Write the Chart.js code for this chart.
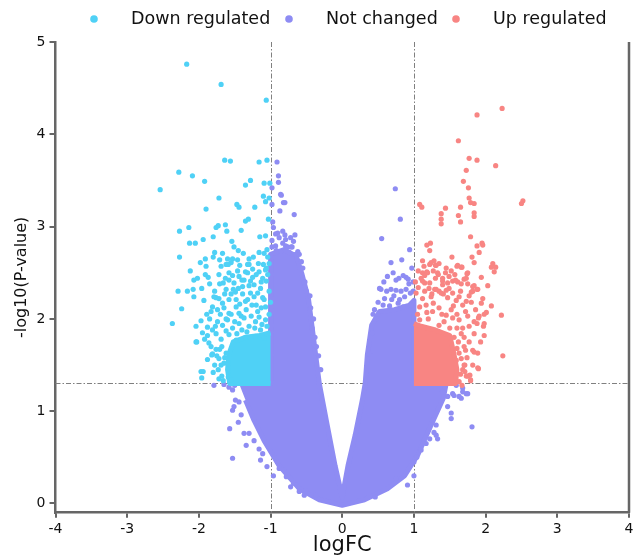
<!DOCTYPE html>
<html>
<head>
<meta charset="utf-8">
<title>Volcano plot</title>
<script src="https://cdn.jsdelivr.net/npm/chart.js@4.4.1/dist/chart.umd.min.js"></script>
<style>
    html, body { margin: 0; padding: 0; background: #fff; }
    #wrap { width: 633px; height: 558px; }
</style>
</head>
<body>
<div id="wrap"><canvas id="volcano" width="633" height="558"></canvas></div>
<script>
// values (logFC, -log10 p)
const xTicks = [-4, -3, -2, -1, 0, 1, 2, 3, 4];
const yTicks = [0, 1, 2, 3, 4, 5];
const fcCutoffs = [-1, 1];
const pCutoff = 1.3;
const legendLabels = ['Down regulated', 'Not changed', 'Up regulated'];

// outlines of the solid blobs where the dots overlap completely
const notChangedCore = [
    [-1.44, 1.30], [-1.0, 1.30], [-1.0, 2.70], [-0.81, 2.75], [-0.64, 2.68], [-0.56, 2.48],
    [-0.47, 2.21], [-0.41, 1.85], [-0.32, 1.30], [-0.21, 0.85], [-0.10, 0.41], [0, 0.07],
    [0.08, 0.41], [0.18, 0.74], [0.28, 1.12], [0.32, 1.30], [0.35, 1.61], [0.41, 1.93],
    [0.52, 2.08], [0.73, 2.10], [0.94, 2.15], [1.0, 2.20], [1.0, 1.30], [1.45, 1.30],
    [1.41, 1.14], [1.24, 0.85], [1.05, 0.52], [0.87, 0.30], [0.63, 0.16], [0.31, 0.04],
    [0, -0.02], [-0.32, 0.04], [-0.60, 0.16], [-0.88, 0.41], [-1.09, 0.68], [-1.23, 0.90],
    [-1.35, 1.12]
];
const downCore = [
    [-1.0, 1.30], [-1.57, 1.30], [-1.60, 1.45], [-1.58, 1.62], [-1.52, 1.75],
    [-1.35, 1.80], [-1.15, 1.82], [-1.0, 1.85]
];
const upCore = [
    [1.0, 1.30], [1.58, 1.30], [1.60, 1.45], [1.55, 1.65], [1.50, 1.82],
    [1.30, 1.88], [1.10, 1.92], [1.0, 1.95]
];

const downPoints = [
    [-2.17, 4.76], [-1.69, 4.54], [-1.06, 4.37], [-1.64, 3.72], [-1.56, 3.71], [-1.16, 3.70],
    [-1.05, 3.72], [-2.28, 3.59], [-2.09, 3.55], [-1.92, 3.49], [-2.54, 3.40], [-1.35, 3.45],
    [-1.28, 3.50], [-1.09, 3.47], [-1.01, 3.47], [-1.72, 3.31], [-1.10, 3.33], [-1.02, 3.31],
    [-1.07, 3.27], [-1.47, 3.24], [-1.44, 3.21], [-1.90, 3.19], [-1.22, 3.21],
    [-1.03, 3.08], [-1.31, 3.08], [-1.35, 3.06], [-1.73, 3.01], [-1.76, 2.99], [-1.63, 3.02],
    [-1.61, 2.95], [-2.27, 2.95], [-2.14, 2.99], [-1.41, 2.96], [-1.80, 2.89], [-1.94, 2.86],
    [-1.15, 2.89], [-1.07, 2.90], [-2.13, 2.82], [-2.05, 2.82], [-1.54, 2.84], [-1.51, 2.78],
    [-1.45, 2.74], [-1.05, 2.75], [-1.16, 2.72], [-1.09, 2.71], [-2.27, 2.67], [-1.78, 2.72],
    [-1.91, 2.65], [-1.67, 2.71], [-1.60, 2.65], [-1.53, 2.65], [-1.46, 2.64], [-1.38, 2.71],
    [-1.24, 2.67], [-1.98, 2.61], [-1.90, 2.57], [-2.12, 2.52], [-1.69, 2.57], [-1.62, 2.59],
    [-1.55, 2.61], [-1.43, 2.58], [-1.30, 2.59], [-1.17, 2.60], [-1.87, 2.45], [-2.07, 2.42],
    [-2.02, 2.44], [-1.72, 2.48], [-1.58, 2.50], [-1.46, 2.52], [-1.35, 2.51], [-1.25, 2.54],
    [-1.16, 2.51], [-1.06, 2.55], [-2.29, 2.30], [-2.16, 2.30], [-2.07, 2.24], [-2.24, 2.11],
    [-2.37, 1.95], [-2.04, 1.92], [-2.03, 1.75], [-1.95, 1.85], [-1.88, 1.82], [-1.97, 1.43],
    [-1.94, 1.43], [-1.96, 1.36], [-1.81, 1.62], [-1.76, 1.67], [-1.71, 1.67],
    [-1.80, 2.67], [-1.71, 2.64], [-1.59, 2.59], [-1.32, 2.59], [-1.10, 2.59], [-1.04, 2.67],
    [-1.66, 2.39], [-1.71, 2.38], [-1.58, 2.42], [-1.51, 2.39], [-1.44, 2.46], [-1.37, 2.42],
    [-1.32, 2.50], [-1.28, 2.41], [-1.20, 2.48], [-1.11, 2.44], [-1.07, 2.53], [-1.06, 2.41],
    [-2.08, 2.32], [-1.79, 2.24], [-1.76, 2.23], [-1.67, 2.17], [-1.58, 2.21], [-1.48, 2.21],
    [-1.39, 2.27], [-1.32, 2.21], [-1.23, 2.24], [-1.11, 2.23], [-1.52, 2.32], [-1.62, 2.32],
    [-1.39, 2.35], [-1.23, 2.37], [-1.81, 2.13], [-1.83, 2.08], [-1.74, 2.10], [-1.65, 2.12],
    [-1.58, 2.06], [-1.48, 2.13], [-1.44, 2.06], [-1.34, 2.10], [-1.26, 2.15], [-1.18, 2.08],
    [-1.07, 2.13], [-1.09, 2.21], [-1.88, 1.91], [-1.81, 1.88], [-1.74, 1.97], [-1.67, 1.93],
    [-1.60, 1.99], [-1.53, 1.90], [-1.44, 1.95], [-1.37, 2.01], [-1.30, 1.92], [-1.21, 1.97],
    [-1.14, 1.88], [-1.07, 1.99], [-1.76, 1.84], [-1.69, 1.78], [-1.58, 1.83], [-1.48, 1.77],
    [-1.35, 1.80], [-1.21, 1.81], [-1.09, 1.79], [-2.04, 1.75], [-1.82, 1.61], [-1.72, 1.57],
    [-1.65, 1.52], [-1.62, 1.63], [-1.59, 1.37], [-1.55, 1.34], [-1.02, 2.30], [-1.14, 2.33],
    [-1.02, 2.05], [-1.12, 1.94], [-1.00, 2.18], [-1.28, 2.28], [-1.43, 2.16], [-1.55, 2.27],
    [-1.70, 2.05], [-1.62, 2.00], [-1.85, 2.00], [-1.50, 1.97], [-1.27, 2.03], [-1.16, 2.02],
    [-1.40, 1.88], [-1.68, 1.70], [-1.73, 1.45], [-1.68, 1.38], [-1.64, 1.58], [-1.78, 1.50],
    [-1.86, 1.74], [-1.85, 2.38], [-1.78, 2.30], [-1.93, 2.20], [-1.89, 2.05], [-1.97, 1.98],
    [-1.63, 2.44], [-1.49, 2.29], [-1.35, 2.19], [-1.20, 2.15], [-1.13, 2.40], [-1.04, 2.48],
    [-1.25, 2.45], [-1.55, 2.05], [-1.72, 2.22], [-1.64, 2.27], [-1.41, 2.03], [-1.30, 2.36],
    [-1.18, 2.28], [-1.05, 1.92], [-1.22, 1.90], [-1.33, 1.86], [-1.47, 1.84], [-1.62, 1.87],
    [-1.77, 1.92], [-1.92, 1.78], [-1.83, 1.70], [-1.75, 1.60], [-1.69, 1.50], [-1.66, 1.33],
    [-1.72, 1.35], [-1.80, 1.42], [-1.88, 1.56], [-1.40, 2.42], [-1.53, 2.47], [-1.96, 2.33],
    [-1.91, 2.48], [-1.45, 2.33], [-1.13, 2.12], [-1.02, 2.60], [-1.30, 2.65]
];

const upPoints = [
    [2.23, 4.28], [1.88, 4.21], [1.62, 3.93], [1.77, 3.74], [1.88, 3.72], [2.14, 3.66],
    [1.73, 3.61], [1.69, 3.49], [1.76, 3.42], [2.52, 3.28], [2.50, 3.25], [1.77, 3.31],
    [1.79, 3.26], [1.84, 3.25], [1.08, 3.24], [1.11, 3.21], [1.44, 3.20], [1.65, 3.21],
    [1.62, 3.12], [1.65, 3.05], [1.84, 3.15], [1.84, 3.11], [1.38, 3.14], [1.38, 3.08],
    [1.38, 3.03], [1.79, 2.89], [1.18, 2.80], [1.23, 2.82], [1.22, 2.74], [1.88, 2.79],
    [1.95, 2.82], [1.96, 2.80], [1.91, 2.72], [1.53, 2.67], [1.12, 2.63], [1.28, 2.63],
    [1.22, 2.59], [1.35, 2.60], [1.31, 2.58], [1.81, 2.67], [1.84, 2.61], [1.60, 2.57],
    [1.67, 2.56], [2.10, 2.60], [2.14, 2.56], [2.08, 2.56], [2.12, 2.51], [1.12, 2.50],
    [1.18, 2.51], [1.44, 2.50], [1.34, 2.48], [1.49, 2.46], [1.74, 2.49], [1.70, 2.43],
    [1.10, 2.44], [1.15, 2.39], [1.22, 2.39], [1.40, 2.41], [1.47, 2.39], [1.54, 2.41],
    [1.61, 2.40], [1.82, 2.35], [1.88, 2.32], [1.80, 2.29], [1.75, 2.38], [1.29, 2.32],
    [1.35, 2.30], [1.41, 2.27], [1.25, 2.27], [1.96, 2.22], [2.08, 2.14], [2.22, 2.04],
    [2.24, 1.60], [2.01, 2.07], [1.90, 2.01], [1.97, 1.92], [1.88, 1.95], [1.72, 1.66],
    [1.82, 1.66], [1.89, 1.63], [1.71, 1.50], [1.89, 1.47], [1.75, 1.38], [1.79, 1.33],
    [1.24, 2.61], [1.30, 2.58], [1.61, 2.58], [1.66, 2.56], [1.15, 2.47], [1.19, 2.50],
    [1.33, 2.50], [1.40, 2.44], [1.58, 2.42], [1.66, 2.38], [1.73, 2.44], [1.75, 2.50],
    [1.84, 2.36], [1.40, 2.37], [1.49, 2.33], [1.12, 2.41], [1.03, 2.28], [1.15, 2.30],
    [1.24, 2.24], [1.31, 2.32], [1.38, 2.28], [1.47, 2.23], [1.54, 2.28], [1.63, 2.24],
    [1.73, 2.19], [1.82, 2.30], [1.89, 2.32], [1.59, 2.20], [1.68, 2.15], [1.80, 2.18],
    [1.94, 2.17], [1.08, 2.13], [1.17, 2.15], [1.26, 2.08], [1.35, 2.12], [1.45, 2.04],
    [1.52, 2.10], [1.54, 2.01], [1.63, 1.99], [1.75, 2.03], [1.84, 1.97], [1.91, 2.03],
    [1.98, 1.95], [1.68, 1.90], [1.77, 1.92], [1.84, 1.84], [1.98, 1.82], [1.77, 1.75],
    [1.70, 1.70], [1.84, 1.64], [1.63, 1.63], [1.66, 1.57], [1.59, 1.55], [1.70, 1.50],
    [1.82, 1.50], [1.90, 1.46], [1.73, 1.38], [1.78, 1.39], [1.79, 1.34], [1.68, 1.45],
    [1.05, 2.05], [1.20, 2.00], [1.42, 1.97], [1.60, 1.90], [1.62, 1.75], [1.65, 1.40],
    [1.63, 1.32], [1.12, 2.22], [1.02, 2.40], [1.30, 2.44], [1.55, 2.14], [1.70, 1.80],
    [1.06, 2.34], [1.14, 2.57], [1.27, 2.52], [1.45, 2.55], [1.57, 2.48], [1.65, 2.30],
    [1.77, 2.25], [1.86, 2.10], [1.72, 2.08], [1.60, 2.05], [1.39, 2.05], [1.27, 2.17],
    [1.18, 2.07], [1.08, 1.99], [1.35, 1.93], [1.50, 1.90], [1.56, 1.80], [1.66, 1.84],
    [1.74, 1.58], [1.67, 1.28], [1.71, 1.43], [1.60, 1.68], [1.93, 1.75], [1.45, 2.31],
    [1.21, 2.33], [1.06, 2.52], [1.52, 2.52], [1.94, 2.45], [2.03, 2.36], [1.98, 2.05]
];

const notChangedPoints = [
    [-0.91, 3.70], [-0.89, 3.55], [-0.89, 3.48], [-0.98, 3.42], [-0.85, 3.34], [-0.82, 3.26],
    [-0.80, 3.26], [-0.98, 3.24], [-0.86, 3.35], [-0.87, 3.17], [-0.67, 3.13], [-0.96, 2.99],
    [-0.90, 2.93], [-0.83, 2.95], [-0.79, 2.86], [-0.72, 2.88], [-0.66, 2.91], [-0.93, 2.79],
    [-0.86, 2.73], [-0.79, 2.79], [-0.70, 2.78], [-0.62, 2.73], [-0.60, 2.70], [-0.93, 2.92],
    [-0.80, 2.91], [-0.83, 2.82], [-0.76, 2.78], [-0.71, 2.78], [-0.65, 2.70], [-0.98, 2.85],
    [-0.97, 3.05], [-0.52, 2.40], [-0.45, 2.25], [-0.40, 2.00], [-0.38, 1.80], [-0.33, 1.60],
    [-0.30, 1.45], [-0.55, 2.55], [-0.42, 1.90], [-0.36, 1.70], [-0.98, 2.78], [-0.92, 2.74],
    [-0.74, 2.72], [-0.57, 2.62], [-0.50, 2.30], [-0.44, 2.12], [-0.68, 2.84], [-0.88, 2.88],
    [0.74, 3.41], [0.81, 3.08], [0.55, 2.87], [0.94, 2.75], [0.68, 2.61], [0.83, 2.64],
    [0.63, 2.46], [0.75, 2.42], [0.79, 2.44], [0.85, 2.47], [0.89, 2.45], [0.92, 2.43],
    [0.52, 2.33], [0.68, 2.32], [0.75, 2.31], [0.89, 2.32], [0.59, 2.22], [0.69, 2.21],
    [0.80, 2.21], [0.66, 2.14], [0.85, 2.13], [0.96, 2.15], [0.54, 2.32], [0.82, 2.30],
    [0.97, 2.55], [0.45, 2.10], [0.47, 2.00], [0.42, 1.85], [0.38, 1.62], [0.99, 2.30],
    [0.43, 2.05], [0.50, 2.18], [0.57, 2.15], [0.62, 2.30], [0.72, 2.25], [0.78, 2.17],
    [0.87, 2.24], [0.95, 2.28], [0.99, 2.40], [0.93, 2.38], [0.58, 2.40], [0.71, 2.50],
    [1.54, 1.19], [1.66, 1.14], [1.73, 1.19], [1.47, 1.05], [1.52, 0.98], [1.52, 0.92],
    [1.81, 0.83], [1.26, 0.90], [1.31, 0.85], [1.28, 0.77], [1.22, 0.70], [1.31, 0.74],
    [1.33, 0.70], [1.17, 0.65], [1.10, 0.58], [1.04, 0.50], [1.00, 0.45], [1.00, 0.30],
    [0.91, 0.20], [0.75, 0.27], [0.46, 0.07], [1.40, 1.21], [1.47, 1.16], [1.59, 1.28],
    [1.68, 1.21], [1.75, 1.19], [1.63, 1.16], [1.56, 1.17], [1.68, 1.25],
    [-1.79, 1.28], [-1.58, 1.26], [-1.53, 1.23], [-1.49, 1.12], [-1.44, 1.10], [-1.51, 1.05],
    [-1.53, 1.01], [-1.41, 0.96], [-1.45, 0.88], [-1.57, 0.81], [-1.37, 0.76], [-1.30, 0.76],
    [-1.23, 0.68], [-1.34, 0.63], [-1.16, 0.59], [-1.11, 0.54], [-1.53, 0.49], [-1.14, 0.47],
    [-0.96, 0.30], [-0.88, 0.38], [-0.78, 0.29], [-0.72, 0.18], [-0.60, 0.13], [-0.53, 0.09],
    [-0.51, 0.14], [-0.37, 0.09], [-1.65, 1.29], [-1.50, 1.28], [-1.05, 0.40], [-0.68, 0.22]
];

const colors = {
    down: '#4fd1f6',
    notChanged: '#8e8cf3',
    up: '#f88583'
};
const axisColor = '#666666';
const fontFamily = '"DejaVu Sans", "Liberation Sans", Arial, sans-serif';

function toXY(list) {
    return list.map(p => ({ x: p[0], y: p[1] }));
}

function dotDataset(label, list, color) {
    return {
        label: label,
        data: toXY(list),
        backgroundColor: color,
        borderWidth: 0,
        pointRadius: 2.6
    };
}

// closed outline filled as a shape, for the solid part of a cloud
function coreDataset(label, list, color) {
    return {
        label: label,
        data: toXY(list),
        showLine: true,
        fill: 'shape',
        backgroundColor: color,
        borderColor: color,
        borderWidth: 5,
        borderJoinStyle: 'round',
        pointRadius: 0,
        tension: 0
    };
}

// dashed cut-off lines go under the dots, right border and legend on top
const decorations = {
    id: 'decorations',
    beforeDatasetsDraw(chart) {
        const { ctx, chartArea: area, scales: { x, y } } = chart;
        ctx.save();
        ctx.strokeStyle = '#808080';
        ctx.lineWidth = 1;
        ctx.setLineDash([5, 2, 1.5, 2]);
        ctx.beginPath();
        fcCutoffs.forEach(v => {
            const px = Math.round(x.getPixelForValue(v)) + 0.5;
            ctx.moveTo(px, area.top);
            ctx.lineTo(px, area.bottom);
        });
        const py = Math.round(y.getPixelForValue(pCutoff)) + 0.5;
        ctx.moveTo(area.left, py);
        ctx.lineTo(area.right, py);
        ctx.stroke();
        ctx.restore();
    },
    afterDraw(chart) {
        const { ctx, chartArea: area } = chart;
        ctx.save();
        ctx.strokeStyle = axisColor;
        ctx.lineWidth = 2.5;
        ctx.beginPath();
        ctx.moveTo(area.right, area.top);
        ctx.lineTo(area.right, area.bottom);
        ctx.stroke();

        const legendColors = [colors.down, colors.notChanged, colors.up];
        const dotX = [94, 289, 456];
        ctx.font = '17.5px ' + fontFamily;
        ctx.textBaseline = 'middle';
        legendLabels.forEach((label, i) => {
            ctx.fillStyle = legendColors[i];
            ctx.beginPath();
            ctx.arc(dotX[i], 19, 3.8, 0, Math.PI * 2);
            ctx.fill();
            ctx.fillStyle = '#111';
            ctx.fillText(label, dotX[i] + 37, 19);
        });
        ctx.restore();
    }
};

const ctx = document.getElementById('volcano').getContext('2d');

// the first dataset is drawn on top, so the grey cloud goes last
new Chart(ctx, {
    type: 'scatter',
    data: {
        datasets: [
            dotDataset(legendLabels[0], downPoints, colors.down),
            coreDataset(legendLabels[0], downCore, colors.down),
            dotDataset(legendLabels[2], upPoints, colors.up),
            coreDataset(legendLabels[2], upCore, colors.up),
            dotDataset(legendLabels[1], notChangedPoints, colors.notChanged),
            coreDataset(legendLabels[1], notChangedCore, colors.notChanged)
        ]
    },
    options: {
        responsive: false,
        devicePixelRatio: 1,
        animation: false,
        events: [],
        layout: {
            padding: { top: 42, right: 1.5, bottom: 0, left: 0 }
        },
        plugins: {
            legend: { display: false },
            tooltip: { enabled: false }
        },
        scales: {
            x: {
                type: 'linear',
                min: -4,
                max: 4,
                afterBuildTicks: scale => {
                    scale.ticks = xTicks.map(v => ({ value: v }));
                },
                afterFit: scale => {
                    scale.height = 45.3;
                    scale.paddingLeft = 0;
                    scale.paddingRight = 0;
                },
                ticks: {
                    color: '#111',
                    padding: 3,
                    maxRotation: 0,
                    font: { family: fontFamily, size: 14 }
                },
                grid: {
                    display: true,
                    drawOnChartArea: false,
                    drawTicks: true,
                    tickLength: 5,
                    color: axisColor,
                    lineWidth: 2
                },
                border: { display: true, color: axisColor, width: 2.5 },
                title: {
                    display: true,
                    text: 'logFC',
                    color: '#111',
                    padding: { top: 0, bottom: 0 },
                    font: { family: fontFamily, size: 21 }
                }
            },
            y: {
                type: 'linear',
                min: -0.1,
                max: 5,
                afterBuildTicks: scale => {
                    scale.ticks = yTicks.map(v => ({ value: v }));
                },
                afterFit: scale => {
                    scale.width = 55.5;
                    scale.paddingTop = 0;
                    scale.paddingBottom = 0;
                },
                ticks: {
                    color: '#111',
                    padding: 4,
                    font: { family: fontFamily, size: 14 }
                },
                grid: {
                    display: true,
                    drawOnChartArea: false,
                    drawTicks: true,
                    tickLength: 6,
                    color: axisColor,
                    lineWidth: 2
                },
                border: { display: true, color: axisColor, width: 2.5 },
                title: {
                    display: true,
                    text: '-log10(P-value)',
                    color: '#111',
                    padding: { top: 12, bottom: 0 },
                    font: { family: fontFamily, size: 16 }
                }
            }
        }
    },
    plugins: [decorations]
});
</script>
</body>
</html>
